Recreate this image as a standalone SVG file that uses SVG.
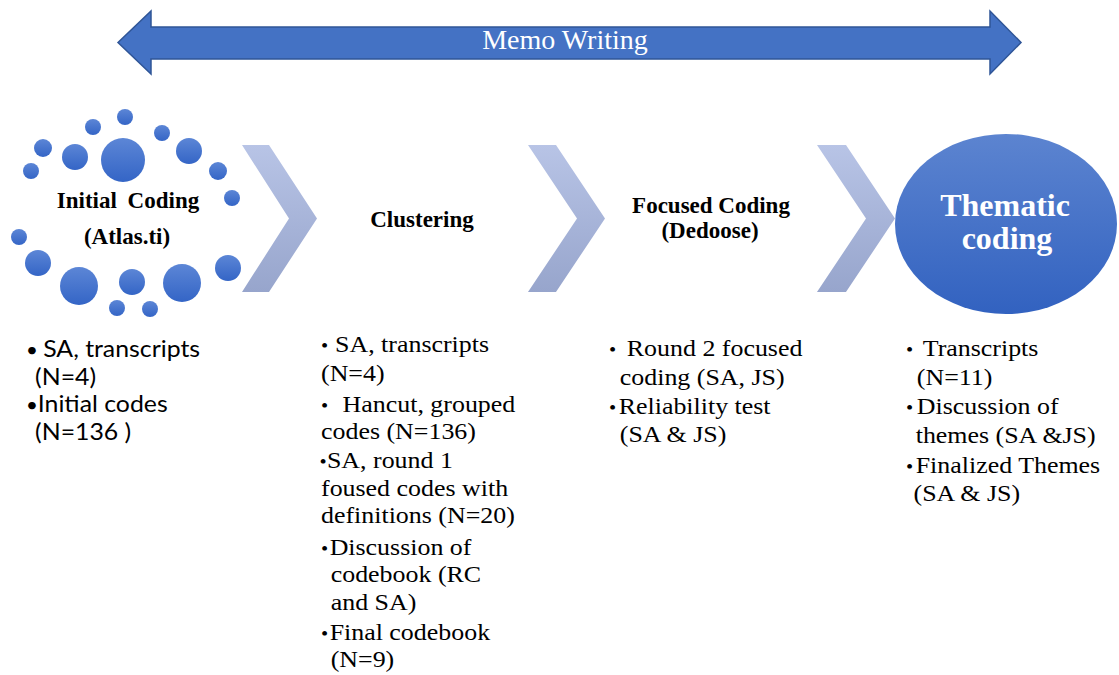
<svg xmlns="http://www.w3.org/2000/svg" width="1119" height="675" viewBox="0 0 1119 675">
  <defs>
    <linearGradient id="dotFill" x1="0" y1="0" x2="0" y2="1">
      <stop offset="0" stop-color="#5c86d6"/>
      <stop offset="1" stop-color="#3465c6"/>
    </linearGradient>
    <linearGradient id="chevFill" x1="0" y1="0" x2="0" y2="1">
      <stop offset="0" stop-color="#b8c4e6"/>
      <stop offset="1" stop-color="#97a5cc"/>
    </linearGradient>
    <linearGradient id="ovalFill" x1="0" y1="0" x2="0" y2="1">
      <stop offset="0" stop-color="#5c84d0"/>
      <stop offset="1" stop-color="#3262c0"/>
    </linearGradient>
    <style>
      .title { font-weight: bold; font-size: 23px; fill: #000; text-anchor: middle; }
      .big { font-weight: bold; font-size: 32px; fill: #fff; text-anchor: middle; }
      .memo { font-size: 28px; fill: #fff; text-anchor: middle; }
      .serif { font-size: 24px; fill: #000; }
      .sans { font-size: 23px; fill: #000; }
      .blt { font-size: 19px; fill: #000; }
      .dot { fill: url(#dotFill); }
      .chev { fill: url(#chevFill); }
    </style>
  </defs>

  <!-- double-headed banner across the top -->
  <g id="memo-writing" font-family="'Liberation Serif', 'Times New Roman', 'DejaVu Serif', serif">
    <path d="M118,42.5 L151,11 L151,27 L990,27 L990,11 L1021,42.5 L990,74 L990,59 L151,59 L151,74 Z" fill="#4472c4" stroke="#2f5597" stroke-width="1.5"/>
    <text class="memo" x="565" y="49">Memo Writing</text>
  </g>

  <!-- step 1: ring of dots -->
  <g id="initial-coding" font-family="'Liberation Serif', 'Times New Roman', 'DejaVu Serif', serif">
    <circle class="dot" cx="125" cy="117" r="8"/>
    <circle class="dot" cx="93" cy="127" r="8"/>
    <circle class="dot" cx="162" cy="133" r="8"/>
    <circle class="dot" cx="43" cy="148" r="9"/>
    <circle class="dot" cx="75" cy="157" r="13"/>
    <circle class="dot" cx="123" cy="160" r="22"/>
    <circle class="dot" cx="189" cy="151" r="13"/>
    <circle class="dot" cx="31" cy="171" r="8"/>
    <circle class="dot" cx="218" cy="171" r="9"/>
    <circle class="dot" cx="232" cy="198" r="8"/>
    <circle class="dot" cx="19" cy="237" r="8"/>
    <circle class="dot" cx="38" cy="263" r="13"/>
    <circle class="dot" cx="79" cy="286" r="19"/>
    <circle class="dot" cx="132" cy="282" r="13"/>
    <circle class="dot" cx="182" cy="283" r="19"/>
    <circle class="dot" cx="228" cy="268" r="13"/>
    <circle class="dot" cx="117" cy="308" r="8"/>
    <circle class="dot" cx="150" cy="309" r="8"/>
    <text class="title" x="128" y="208" word-spacing="5">Initial Coding</text>
    <text class="title" x="127" y="244">(Atlas.ti)</text>
  </g>

  <!-- step 2 -->
  <g id="clustering" font-family="'Liberation Serif', 'Times New Roman', 'DejaVu Serif', serif">
    <text class="title" x="422" y="227">Clustering</text>
  </g>

  <!-- step 3 -->
  <g id="focused-coding" font-family="'Liberation Serif', 'Times New Roman', 'DejaVu Serif', serif">
    <text class="title" x="711" y="213">Focused Coding</text>
    <text class="title" x="710" y="238">(Dedoose)</text>
  </g>

  <!-- step 4 -->
  <g id="thematic-coding" font-family="'Liberation Serif', 'Times New Roman', 'DejaVu Serif', serif">
    <ellipse cx="1006" cy="224" rx="111" ry="90" fill="url(#ovalFill)"/>
    <text class="big" x="1005" y="216">Thematic</text>
    <text class="big" x="1007" y="249">coding</text>
  </g>

  <!-- chevrons between steps -->
  <g id="connectors">
    <polygon class="chev" points="242,145 269,145 317,218.5 269,292 242,292 289,218.5"/>
    <polygon class="chev" points="528,145 556,145 605,218.5 556,292 528,292 577,218.5"/>
    <polygon class="chev" points="817,145 846,145 895,218.5 846,292 817,292 866,218.5"/>
  </g>

  <!-- detail lists under each step -->
  <g id="notes-initial" font-family="Lato, 'Liberation Sans', sans-serif" transform="translate(27,0) scale(1.08,1)">
    <text class="blt" x="-1" y="357">•</text>
    <text class="sans" x="15" y="357">SA, transcripts</text>
    <text class="sans" x="7.5" y="385">(N=4)</text>
    <text class="blt" x="-1" y="412">•</text>
    <text class="sans" x="10" y="412">Initial codes</text>
    <text class="sans" x="7.5" y="440">(N=136 )</text>
  </g>

  <g id="notes-clustering" font-family="'Liberation Serif', 'Times New Roman', 'DejaVu Serif', serif" transform="translate(321,0) scale(1.08,1)">
    <text class="blt" x="0" y="352">•</text>
    <text class="serif" x="13" y="352">SA, transcripts</text>
    <text class="serif" x="0" y="381">(N=4)</text>
    <text class="blt" x="0" y="412">•</text>
    <text class="serif" x="20" y="412">Hancut, grouped</text>
    <text class="serif" x="0" y="439">codes (N=136)</text>
    <text class="blt" x="-1.5" y="468">•</text>
    <text class="serif" x="5.5" y="468">SA, round 1</text>
    <text class="serif" x="0" y="496">foused codes with</text>
    <text class="serif" x="0" y="523">definitions (N=20)</text>
    <text class="blt" x="0" y="555">•</text>
    <text class="serif" x="8" y="555">Discussion of</text>
    <text class="serif" x="9" y="582">codebook (RC</text>
    <text class="serif" x="9" y="610">and SA)</text>
    <text class="blt" x="0" y="640">•</text>
    <text class="serif" x="8" y="640">Final codebook</text>
    <text class="serif" x="9" y="667">(N=9)</text>
  </g>

  <g id="notes-focused" font-family="'Liberation Serif', 'Times New Roman', 'DejaVu Serif', serif" transform="translate(609,0) scale(1.08,1)">
    <text class="blt" x="0" y="356">•</text>
    <text class="serif" x="16.5" y="356">Round 2 focused</text>
    <text class="serif" x="10" y="385">coding (SA, JS)</text>
    <text class="blt" x="0" y="414">•</text>
    <text class="serif" x="9" y="414">Reliability test</text>
    <text class="serif" x="10" y="442">(SA &amp; JS)</text>
  </g>

  <g id="notes-thematic" font-family="'Liberation Serif', 'Times New Roman', 'DejaVu Serif', serif" transform="translate(906,0) scale(1.08,1)">
    <text class="blt" x="0" y="356">•</text>
    <text class="serif" x="15.5" y="356">Transcripts</text>
    <text class="serif" x="10" y="385">(N=11)</text>
    <text class="blt" x="0" y="414">•</text>
    <text class="serif" x="10" y="414">Discussion of</text>
    <text class="serif" x="9" y="443">themes (SA &amp;JS)</text>
    <text class="blt" x="0" y="473">•</text>
    <text class="serif" x="9" y="473">Finalized Themes</text>
    <text class="serif" x="7" y="501">(SA &amp; JS)</text>
  </g>
</svg>
